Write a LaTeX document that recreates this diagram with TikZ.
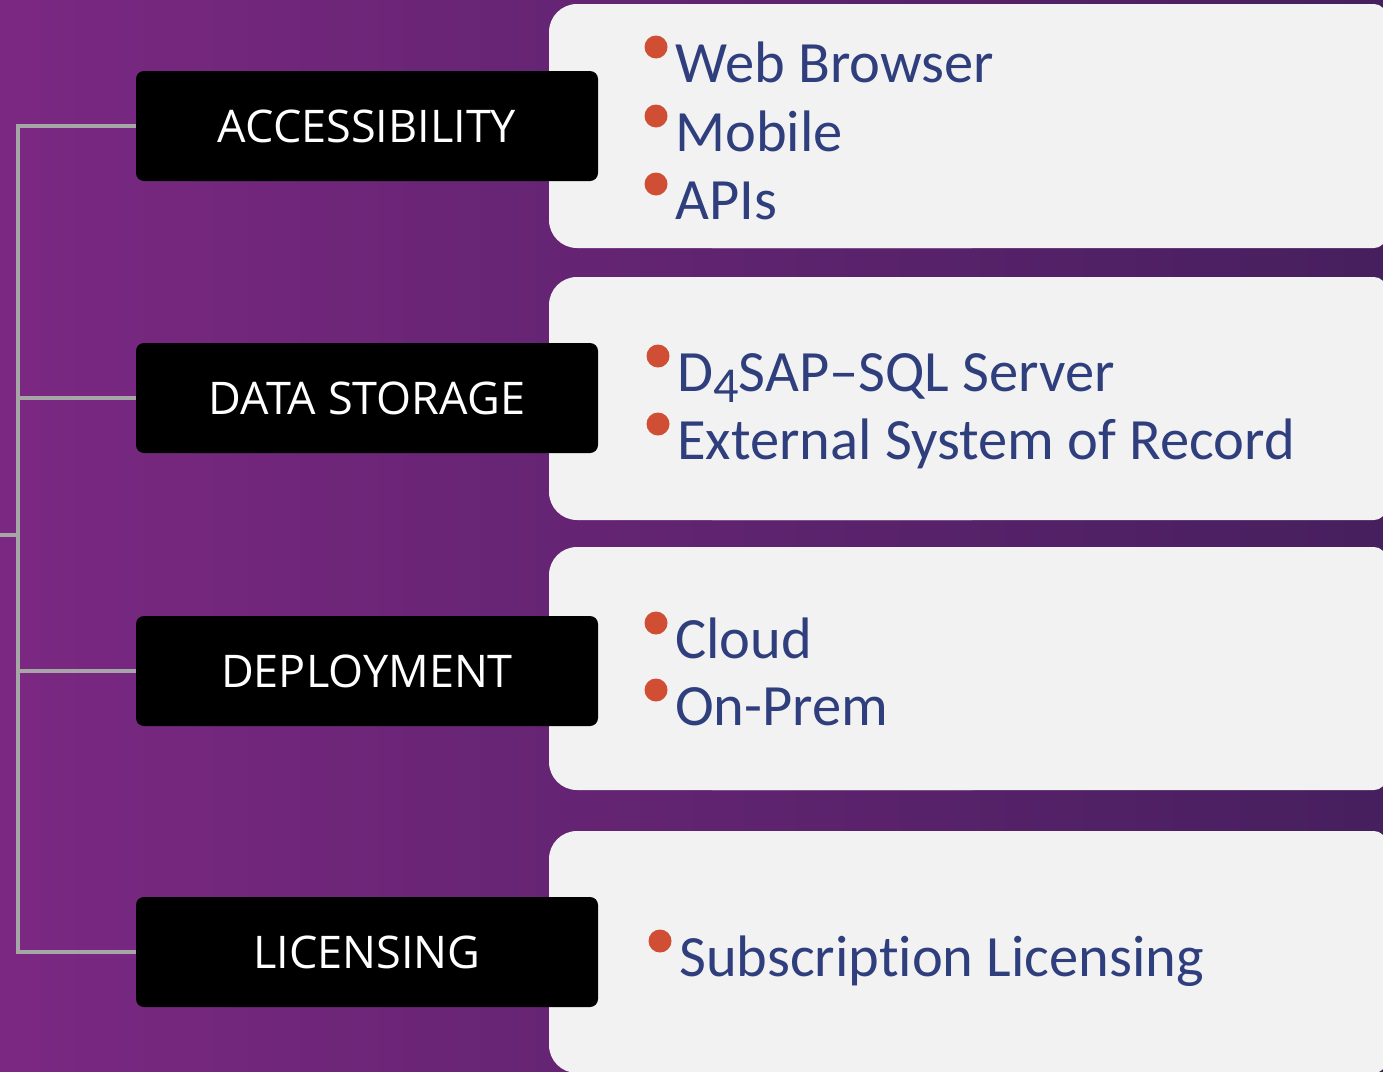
\documentclass[tikz,border=0pt]{standalone}
\usepackage{fontspec}
\usepackage{graphicx}
\usepackage{tikz}
\usetikzlibrary{calc}
\usetikzlibrary{positioning}
\setmainfont[Ligatures=NoCommon]{Carlito}
\newfontfamily\labelfont{Open Sans}
\definecolor{bg-left}{RGB}{123,40,130}
\definecolor{bg-mid}{RGB}{106,37,117}
\definecolor{bg-right}{RGB}{70,31,94}
\definecolor{panel}{RGB}{242,242,242}
\definecolor{item-blue}{RGB}{47,62,124}
\definecolor{dot-red}{RGB}{208,78,52}
\definecolor{wire}{RGB}{166,166,166}

\tikzset{
  head/.style={fill=black, rounded corners=8, minimum width=462, minimum height=110,
               inner sep=0, text=white, font=\labelfont\fontsize{45}{54}\selectfont},
  item/.style={anchor=base west, inner sep=0, text=item-blue,
               font=\fontsize{58.5}{70}\selectfont},
  dot/.style={circle, fill=dot-red, minimum size=23, inner sep=0},
  conn/.style={wire, line width=4}
}

\begin{document}
\begin{tikzpicture}[x=1pt, y=-1pt]
% Page (pixels, y down)
\useasboundingbox (0, 0) rectangle (1383, 1071);
\clip (0, 0) rectangle (1383, 1071);
\shade[left color=bg-left, middle color=bg-mid, right color=bg-right]
      (0, 0) rectangle (1383, 1071);

% ---------------------------------------------------
% Light panels (big radius left, small radius right)
\foreach \top/\bot in {4/248, 277/520, 547/790, 831/1073} {
  \fill[panel, rounded corners=28] (549, \top) rectangle (1000, \bot);
  \fill[panel, rounded corners=12] (700, \top) rectangle (1386, \bot);
}

% ---------------------------------------------------
% Headings
\node[head] (acc)  at (367, 126) {ACCESSIBILITY};
\node[head] (data) at (367, 398) {DATA STORAGE};
\node[head] (depl) at (367, 671) {DEPLOYMENT};
\node[head] (lic)  at (367, 952) {LICENSING};

% Tree
\coordinate[] (spine) at (18, 535);
\coordinate[] (root)  at ( 0, 535);
\draw[conn] (acc.west) -| (spine) |- (lic.west);
\draw[conn] (data.west) -- (data.west -| spine);
\draw[conn] (depl.west) -- (depl.west -| spine);
\draw[conn] (spine) -- (root);

% ---------------------------------------------------
% Items
\node[item] (web)    at (675,  82) {Web Browser};
\node[item] (mobile) at (675, 151) {Mobile};
\node[item] (apis)   at (675, 219) {APIs};

\node[item] (d4sap)  at (677, 391) {D\raisebox{-11pt}{\scalebox{0.86}{4}}SAP–SQL Server};
\node[item] (extsor) at (677, 459) {External System of Record};

\node[item] (cloud)  at (675, 658) {Cloud};
\node[item] (onprem) at (675, 725) {On-Prem};

\node[item] (subs)   at (679, 976) {Subscription Licensing};

% Bullets
\foreach \n in {web, mobile, apis, d4sap, extsor, cloud, onprem, subs} {
  \node[dot] (dot-\n) at ($ (\n.base west) + (-19, -35) $) {};
}
% ---------------------------------------------------
\end{tikzpicture}
\end{document}
